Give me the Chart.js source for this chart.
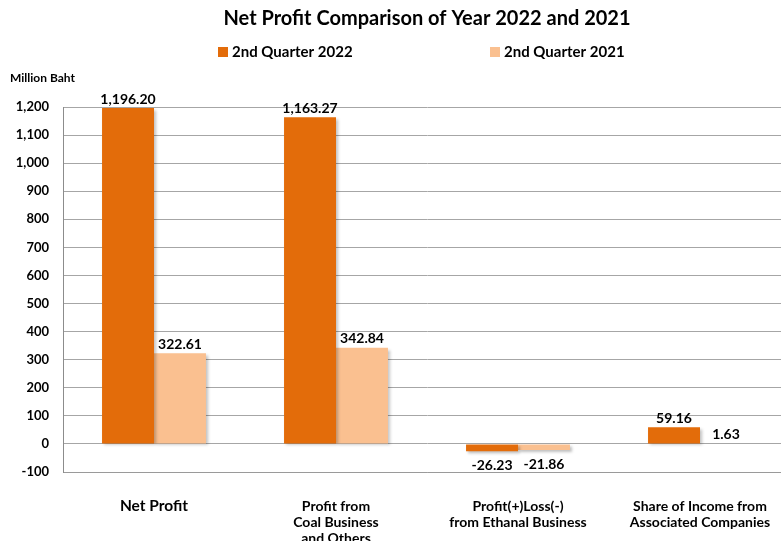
<!DOCTYPE html>
<html>
<head>
<meta charset="utf-8">
<script src="https://cdn.jsdelivr.net/npm/chart.js@4/dist/chart.umd.min.js"></script>
<style>
  html, body { margin: 0; padding: 0; background: #fff; overflow: hidden; width: 781px; height: 541px; }
  canvas { display: block; }
</style>
</head>
<body>
<canvas id="profitChart" width="854" height="541"></canvas>
<script>
// chart data
var categories = [
    ['Net Profit'],
    ['Profit from', 'Coal Business', 'and Others'],
    ['Profit(+)Loss(-)', 'from Ethanal Business'],
    ['Share of Income from', 'Associated Companies']
];
var seriesNames = ['2nd Quarter 2022', '2nd Quarter 2021'];
var q2_2022 = [1196.20, 1163.27, -26.23, 59.16];
var q2_2021 = [322.61, 342.84, -21.86, 1.63];
var seriesColors = ['#E36C0A', '#FAC090'];
var yTicks = { min: -100, max: 1200, step: 100 };

var FONT = 'Lato, "Open Sans", "Liberation Sans", sans-serif';

// title, legend and unit label drawn by hand so they sit where Excel put them
var headerPlugin = {
    id: 'header',
    afterDraw: function(chart) {
        var ctx = chart.ctx;
        ctx.save();
        ctx.fillStyle = '#000';
        ctx.textBaseline = 'middle';

        ctx.font = 'bold 20px ' + FONT;
        ctx.textAlign = 'center';
        ctx.fillText('Net Profit Comparison of Year 2022 and 2021', 427, 19);

        ctx.font = 'bold 15px ' + FONT;
        ctx.textAlign = 'left';
        var legendX = [218, 490];
        chart.data.datasets.forEach(function(ds, i) {
            ctx.fillStyle = ds.backgroundColor;
            ctx.fillRect(legendX[i], 47, 10, 10);
            ctx.fillStyle = '#000';
            ctx.fillText(ds.label, legendX[i] + 14, 52);
        });

        ctx.font = 'bold 12px ' + FONT;
        ctx.fillText('Million Baht', 10, 78);
        ctx.restore();
    }
};

// soft shadow behind the bars
var shadowPlugin = {
    id: 'barShadow',
    beforeDatasetsDraw: function(chart) {
        var ctx = chart.ctx;
        ctx.save();
        ctx.shadowColor = 'rgba(0,0,0,0.25)';
        ctx.shadowBlur = 3;
        ctx.shadowOffsetX = 2;
        ctx.shadowOffsetY = 2;
    },
    afterDatasetsDraw: function(chart) {
        chart.ctx.restore();
    }
};

// value labels on top of (or under) each bar
var valueLabels = {
    id: 'valueLabels',
    afterDatasetsDraw: function(chart) {
        var ctx = chart.ctx;
        ctx.save();
        ctx.font = 'bold 14px ' + FONT;
        ctx.fillStyle = '#000';
        ctx.textAlign = 'center';
        chart.data.datasets.forEach(function(ds, i) {
            chart.getDatasetMeta(i).data.forEach(function(bar, j) {
                var v = ds.data[j];
                var txt = v.toLocaleString('en-US', { minimumFractionDigits: 2, maximumFractionDigits: 2 });
                if (v >= 0) {
                    ctx.textBaseline = 'bottom';
                    ctx.fillText(txt, bar.x, bar.y - 2);
                } else {
                    ctx.textBaseline = 'top';
                    ctx.fillText(txt, bar.x, bar.y + 7);
                }
            });
        });
        ctx.restore();
    }
};

var ctx = document.getElementById('profitChart').getContext('2d');
var profitChart = new Chart(ctx, {
    type: 'bar',
    data: {
        labels: categories,
        datasets: [{
            label: seriesNames[0],
            data: q2_2022,
            backgroundColor: seriesColors[0]
        }, {
            label: seriesNames[1],
            data: q2_2021,
            backgroundColor: seriesColors[1]
        }]
    },
    options: {
        responsive: false,
        animation: false,
        categoryPercentage: 0.571,
        barPercentage: 1,
        layout: {
            padding: { top: 107, right: 63, left: 0, bottom: 0 }
        },
        plugins: {
            legend: { display: false },
            title: { display: false },
            tooltip: { enabled: false }
        },
        scales: {
            x: {
                grid: { display: false },
                border: { display: true, color: '#9a9a9a' },
                ticks: {
                    color: '#000',
                    padding: 18,
                    maxRotation: 0,
                    autoSkip: false,
                    font: function(c) {
                        return { family: FONT, weight: 'bold', size: c.index === 0 ? 15.5 : 14, lineHeight: c.index === 0 ? 16 / 15.5 : 16 / 14 };
                    }
                },
                afterFit: function(scale) { scale.height = 69; }
            },
            y: {
                min: yTicks.min,
                max: yTicks.max,
                grid: { color: '#a6a6a6', drawTicks: false },
                border: { display: true, color: '#8c8c8c' },
                ticks: {
                    stepSize: yTicks.step,
                    color: '#000',
                    padding: 14,
                    font: { family: FONT, weight: 'bold', size: 13 }
                },
                afterFit: function(scale) { scale.width = 63; }
            }
        }
    },
    plugins: [shadowPlugin, valueLabels, headerPlugin]
});
</script>
</body>
</html>
